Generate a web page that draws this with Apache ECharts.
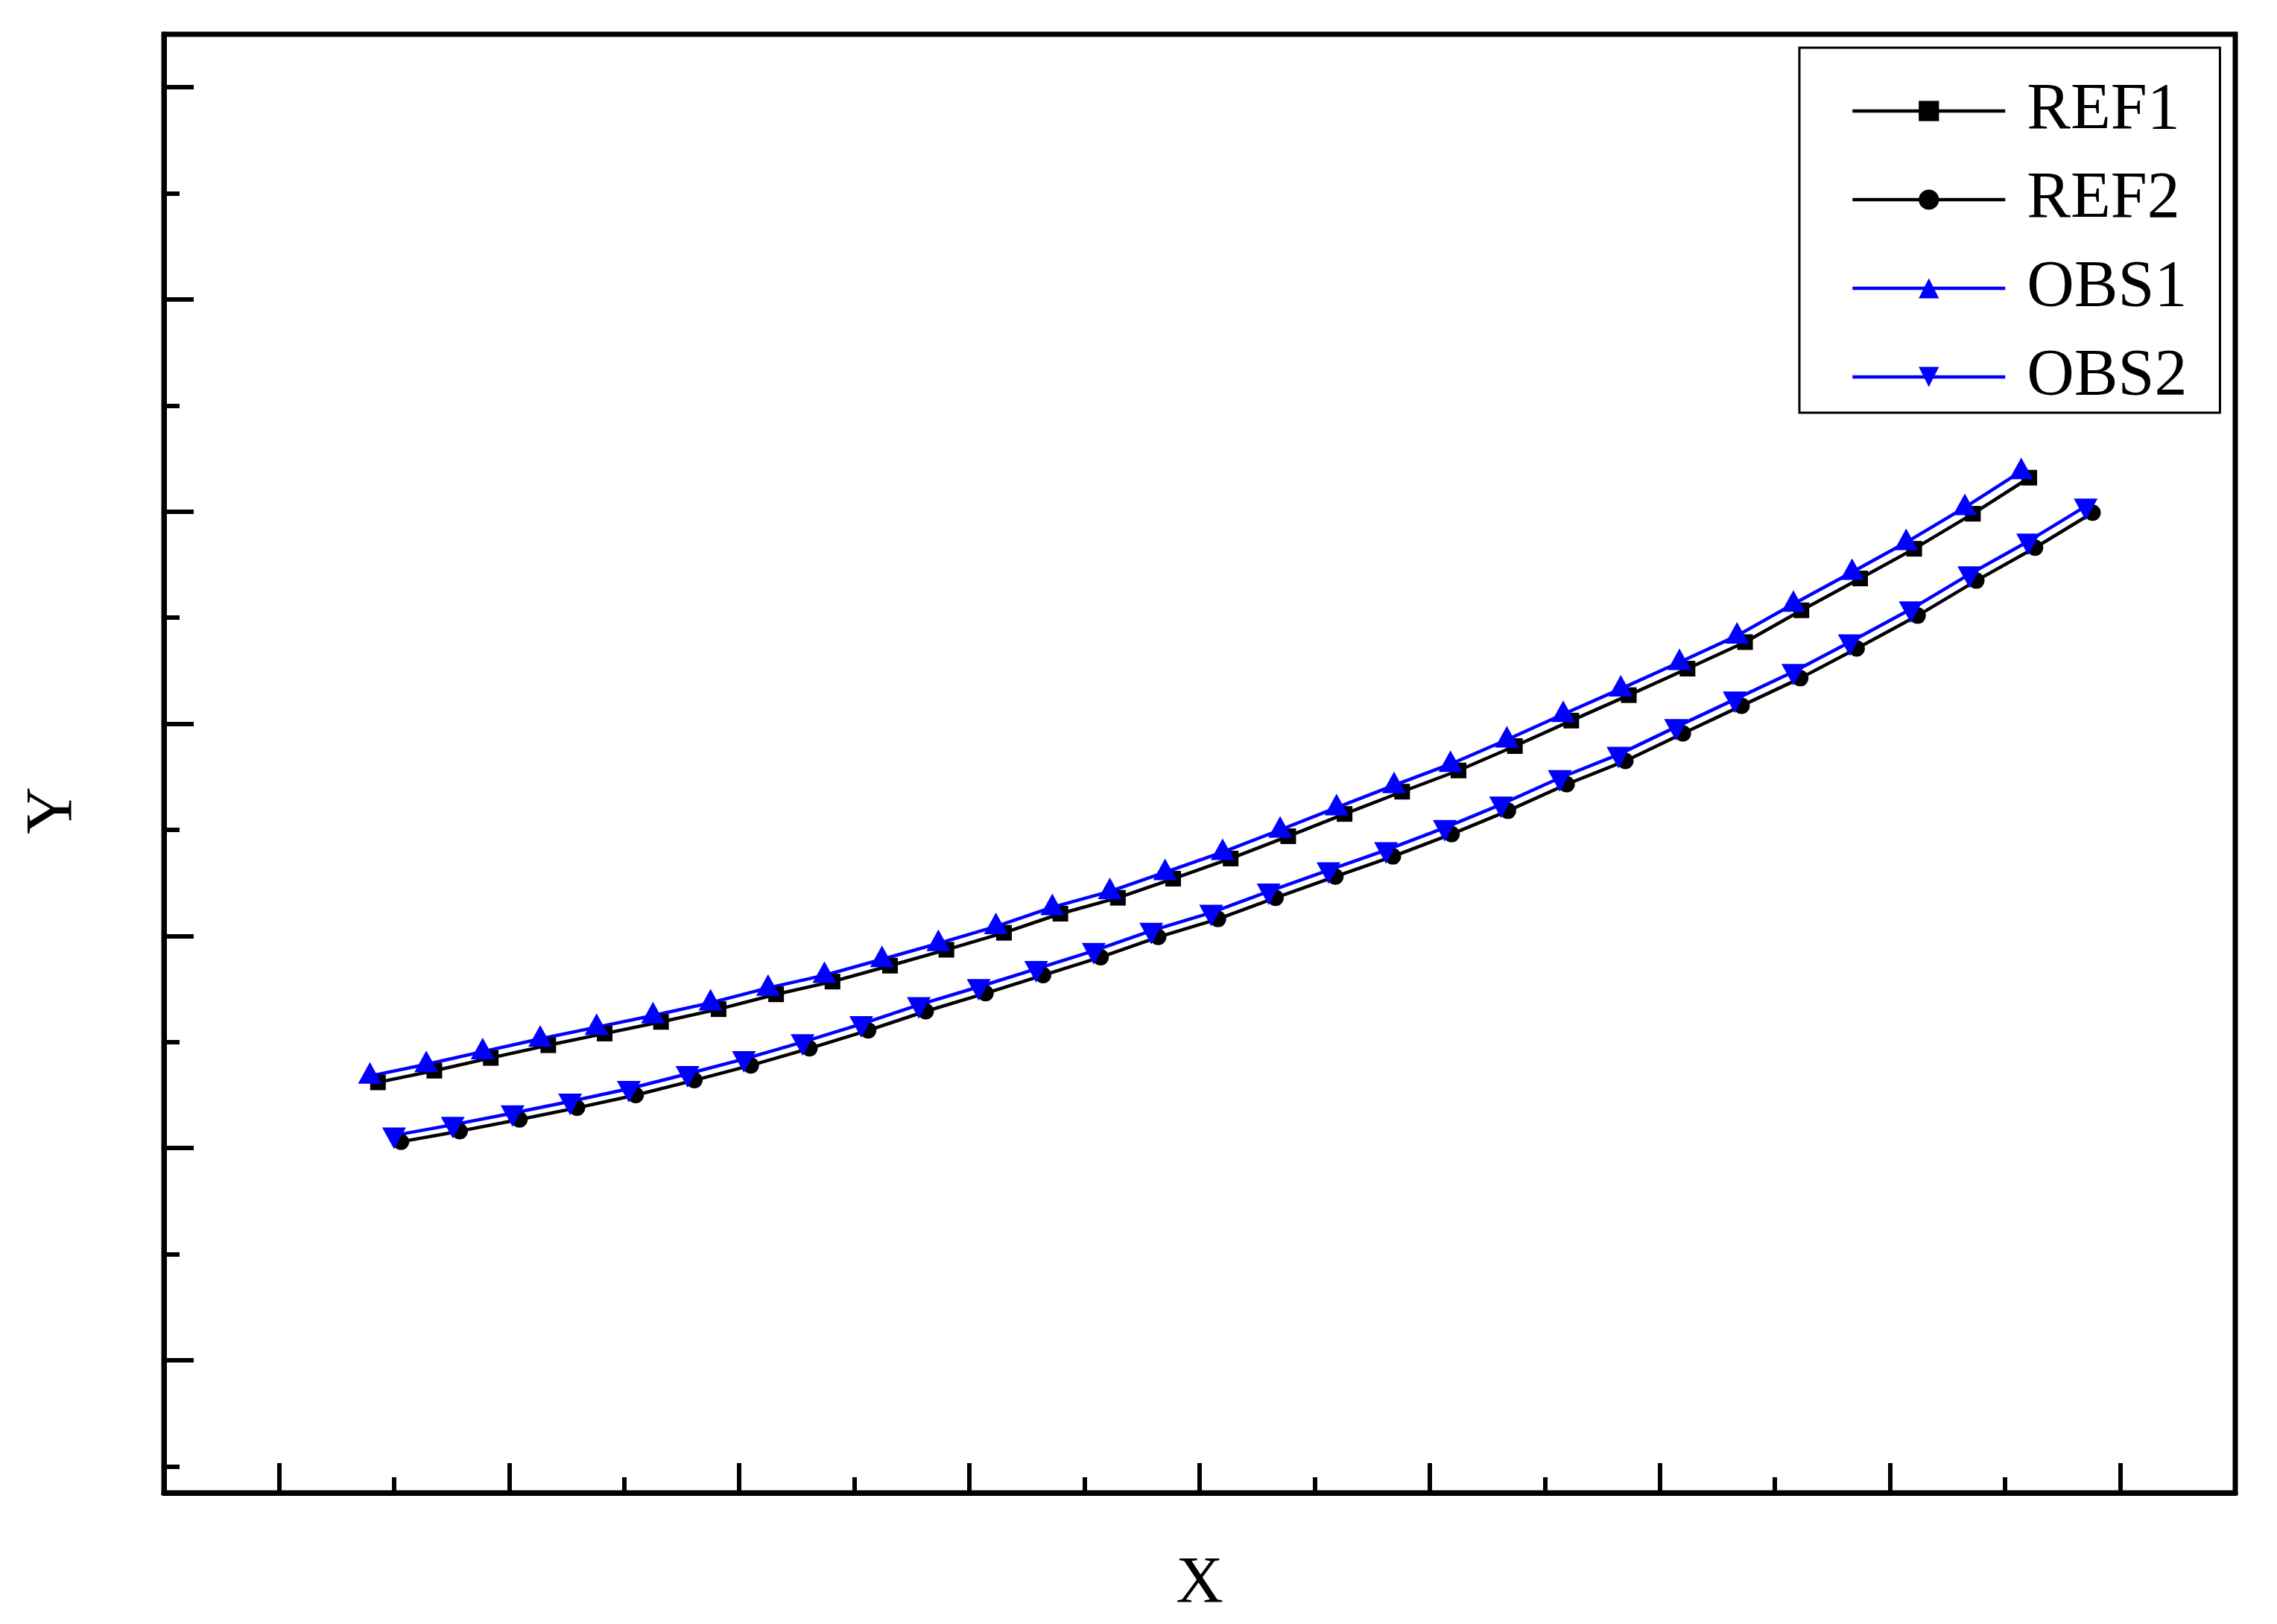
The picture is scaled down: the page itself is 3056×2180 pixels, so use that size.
<!DOCTYPE html>
<html>
<head>
<meta charset="utf-8">
<script src="https://cdn.jsdelivr.net/npm/echarts@6/dist/echarts.min.js"></script>
<style>
  html, body { margin: 0; padding: 0; background: #fff; }
  #chart { width: 3056px; height: 2180px; }
</style>
</head>
<body>
<div id="chart"></div>
<script>
const seriesNames = ['REF1', 'REF2', 'OBS1', 'OBS2']

const ref1X = [0.86, 1.35, 1.84, 2.34, 2.83, 3.32, 3.82, 4.32, 4.81, 5.31, 5.80, 6.30, 6.79, 7.29, 7.77, 8.27, 8.77, 9.26, 9.76, 10.25, 10.74, 11.23, 11.73, 12.24, 12.74, 13.23, 13.74, 14.21, 14.72, 15.21]
const ref1Y = [2.62, 2.73, 2.85, 2.97, 3.08, 3.19, 3.31, 3.45, 3.57, 3.72, 3.87, 4.03, 4.21, 4.36, 4.54, 4.73, 4.94, 5.15, 5.36, 5.56, 5.79, 6.03, 6.27, 6.52, 6.77, 7.07, 7.37, 7.65, 7.98, 8.32]

const ref2X = [1.06, 1.57, 2.09, 2.59, 3.10, 3.61, 4.10, 4.61, 5.12, 5.62, 6.14, 6.64, 7.14, 7.64, 8.16, 8.66, 9.18, 9.68, 10.19, 10.68, 11.19, 11.70, 12.20, 12.71, 13.22, 13.71, 14.24, 14.75, 15.26, 15.76]
const ref2Y = [2.06, 2.16, 2.27, 2.38, 2.50, 2.64, 2.78, 2.94, 3.11, 3.29, 3.46, 3.63, 3.80, 3.99, 4.16, 4.36, 4.56, 4.75, 4.96, 5.18, 5.43, 5.65, 5.91, 6.17, 6.43, 6.71, 7.02, 7.35, 7.66, 7.99]

const obs1X = [0.79, 1.28, 1.77, 2.27, 2.76, 3.25, 3.75, 4.25, 4.74, 5.24, 5.73, 6.23, 6.72, 7.22, 7.70, 8.20, 8.70, 9.19, 9.69, 10.18, 10.67, 11.16, 11.66, 12.17, 12.67, 13.16, 13.67, 14.14, 14.65, 15.14]
const obs1Y = [2.68, 2.79, 2.91, 3.03, 3.14, 3.25, 3.37, 3.51, 3.63, 3.78, 3.93, 4.09, 4.27, 4.42, 4.60, 4.79, 5.00, 5.21, 5.42, 5.62, 5.85, 6.09, 6.33, 6.58, 6.83, 7.13, 7.43, 7.71, 8.04, 8.38]

const obs2X = [1.00, 1.51, 2.03, 2.53, 3.04, 3.55, 4.04, 4.55, 5.06, 5.56, 6.08, 6.58, 7.08, 7.58, 8.10, 8.60, 9.12, 9.62, 10.13, 10.62, 11.13, 11.64, 12.14, 12.65, 13.16, 13.65, 14.18, 14.69, 15.20, 15.70]
const obs2Y = [2.12, 2.22, 2.33, 2.44, 2.56, 2.70, 2.84, 3.00, 3.17, 3.35, 3.52, 3.69, 3.86, 4.05, 4.22, 4.42, 4.62, 4.81, 5.02, 5.24, 5.49, 5.71, 5.97, 6.23, 6.49, 6.77, 7.08, 7.41, 7.72, 8.05]

// unlabeled axes: only tick positions
const xMajorTicks = [0, 2, 4, 6, 8, 10, 12, 14, 16]
const xMinorTicks = [1, 3, 5, 7, 9, 11, 13, 15]
const yMajorTicks = [0, 2, 4, 6, 8, 10, 12]
const yMinorTicks = [-1, 1, 3, 5, 7, 9, 11]

const FONT = 'Liberation Serif'
const pairs = (xs, ys) => xs.map((x, i) => [x, ys[i]])

const chart = echarts.init(document.getElementById('chart'))

function tickAxis(values, len, extra) {
  return Object.assign({
    type: 'value',
    axisLine: { show: false, onZero: false },
    axisLabel: { show: false },
    splitLine: { show: false },
    axisTick: {
      show: true,
      inside: true,
      length: len,
      customValues: values,
      lineStyle: { color: '#000', width: 6 }
    }
  }, extra)
}

const xRange = { min: -1, max: 17 }
const yRange = { min: -1.25, max: 12.5 }
const mainLine = { show: true, onZero: false, lineStyle: { color: '#000', width: 7 } }

const option = {
  animation: false,
  backgroundColor: '#fff',
  grid: {
    left: 220,
    right: 56,
    top: 46,
    bottom: 176,
    show: true,
    borderColor: '#000',
    borderWidth: 7,
    containLabel: false
  },
  legend: {
    data: seriesNames,
    orient: 'vertical',
    left: 2415,
    top: 64,
    padding: [41, 44, 4, 69],
    itemWidth: 205,
    itemHeight: 34,
    itemGap: 31,
    selectedMode: false,
    borderColor: '#000',
    borderWidth: 3,
    lineStyle: { width: 4.5 },
    textStyle: {
      fontFamily: FONT,
      fontSize: 88,
      lineHeight: 86,
      color: '#000',
      padding: [0, 0, 0, 24]
    }
  },
  xAxis: [
    tickAxis(xMajorTicks, 40, Object.assign({
      position: 'bottom',
      axisLine: mainLine,
      name: 'X',
      nameLocation: 'middle',
      nameGap: 80,
      nameTextStyle: { fontFamily: FONT, fontSize: 88, lineHeight: 86, color: '#000' }
    }, xRange)),
    tickAxis(xMinorTicks, 21, Object.assign({ position: 'bottom' }, xRange))
  ],
  yAxis: [
    tickAxis(yMajorTicks, 40, Object.assign({
      position: 'left',
      axisLine: mainLine,
      name: 'Y',
      nameLocation: 'middle',
      nameRotate: 90,
      nameGap: 105,
      nameTextStyle: { fontFamily: FONT, fontSize: 88, lineHeight: 86, color: '#000', padding: [0, 126, 0, 0] }
    }, yRange)),
    tickAxis(yMinorTicks, 21, Object.assign({ position: 'left', offset: 0 }, yRange))
  ],
  series: [
    {
      name: 'REF1',
      type: 'line',
      data: pairs(ref1X, ref1Y),
      symbol: 'rect',
      symbolSize: 21,
      lineStyle: { color: '#000', width: 4.5 },
      itemStyle: { color: '#000' }
    },
    {
      name: 'REF2',
      type: 'line',
      data: pairs(ref2X, ref2Y),
      symbol: 'circle',
      symbolSize: 22,
      lineStyle: { color: '#000', width: 4.5 },
      itemStyle: { color: '#000' }
    },
    {
      name: 'OBS1',
      type: 'line',
      data: pairs(obs1X, obs1Y),
      symbol: 'triangle',
      symbolSize: [32, 29],
      symbolOffset: [0, -4],
      lineStyle: { color: '#0000ff', width: 4.5 },
      itemStyle: { color: '#0000ff' }
    },
    {
      name: 'OBS2',
      type: 'line',
      data: pairs(obs2X, obs2Y),
      symbol: 'triangle',
      symbolRotate: 180,
      symbolSize: [32, 29],
      symbolOffset: [0, 4],
      lineStyle: { color: '#0000ff', width: 4.5 },
      itemStyle: { color: '#0000ff' }
    }
  ]
}

chart.setOption(option)

window.addEventListener('resize', () => chart.resize())
</script>
</body>
</html>
